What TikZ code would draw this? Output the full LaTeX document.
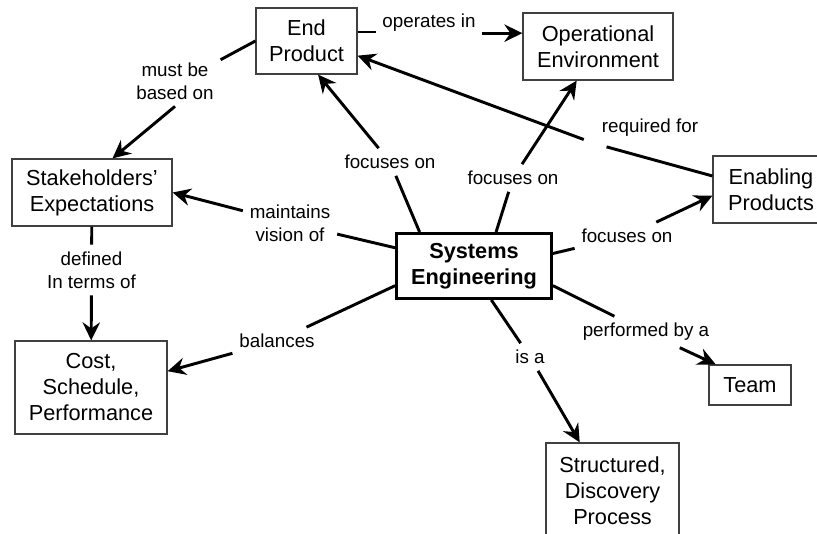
\documentclass[tikz,border=0pt]{standalone}
\usepackage{fontspec}
\setmainfont{Liberation Sans}
\usetikzlibrary{arrows.meta}

\tikzset{
  concept/.style={draw=black!75, line width=0.9pt, align=center, inner sep=0pt,
    font=\fontsize{16.3}{19.5}\selectfont},
  core/.style={concept, draw=black, line width=2.25pt,
    font=\fontsize{16.3}{19.5}\selectfont\bfseries},
  phrase/.style={align=center, inner sep=5pt, font=\fontsize{14.1}{17.3}\selectfont},
  link/.style={line width=2.2pt},
  linkarrow/.style={link, -{Stealth[length=13.5pt, width=13pt, inset=4.5pt]}}
}

\begin{document}
\begin{tikzpicture}[x=0.75pt, y=-0.75pt]
\useasboundingbox (0,0) rectangle (817,534);

\node[core, minimum width=116pt, minimum height=48.75pt] (se) at (474,266) {Systems\\Engineering};
\node[concept, minimum width=75.75pt, minimum height=49.5pt] (ep) at (306.5,41) {End\\Product};
\node[concept, minimum width=112.5pt, minimum height=50.25pt] (op) at (598,46.5) {Operational\\Environment};
\node[concept, minimum width=120pt, minimum height=50.25pt] (sh) at (92,192.5) {Stakeholders'\\Expectations};
\node[concept, minimum width=87pt, minimum height=50.25pt] (en) at (771,189.5) {Enabling\\Products};
\node[concept, minimum width=114pt, minimum height=69.75pt] (cs) at (91,387.5) {Cost,\\Schedule,\\Performance};
\node[concept, minimum width=61.5pt, minimum height=30pt] (tm) at (750,385) {Team};
\node[concept, minimum width=99.75pt, minimum height=72pt] (sp) at (612.5,491) {Structured,\\Discovery\\Process};

\node[phrase] (opin) at (429,23) {operates in};
\node[phrase] (mbo) at (175,81) {must be\\based on};
\node[phrase] (fo1) at (390,162) {focuses on};
\node[phrase] (fo2) at (513,178) {focuses on};
\node[phrase] (mv) at (290,223) {maintains\\vision of};
\node[phrase] (rf) at (650,128) {required for};
\node[phrase] (fo3) at (627,236) {focuses on};
\node[phrase] (dt) at (91.5,270) {defined\\In terms of};
\node[phrase] (bal) at (277,341) {balances};
\node[phrase] (isa) at (530,357) {is a};
\node[phrase] (pb) at (646,332) {performed by a};

\draw[link] (ep.10) -- (ep.10 -| opin.west);
\draw[linkarrow] (opin.east |- op.170) -- (op.170);
\draw[link] (ep.west) -- (mbo.25);
\draw[linkarrow] (mbo.south) -- (sh.59);
\draw[link] (se.148) -- (fo1);
\draw[linkarrow] (fo1) -- (ep.-71);
\draw[link] (se.57) -- (fo2);
\draw[linkarrow] (fo2) -- (op.-122);
\draw[link] (se.167) -- (mv);
\draw[linkarrow] (mv) -- (sh.east);
\draw[link, shorten >=9pt] (en.167) -- (rf.south west);
\draw[linkarrow, shorten <=9pt] (rf.south west) -- (ep.-16);
\draw[link] (se.9) -- (fo3);
\draw[linkarrow] (fo3) -- (en.-174);
\draw[link] (sh) -- (dt);
\draw[linkarrow] (dt) -- (cs);
\draw[link] (se.-166) -- (bal);
\draw[linkarrow] (bal) -- (cs.12);
\draw[link] (se.-63) -- (isa);
\draw[linkarrow] (isa) -- (sp.124);
\draw[link] (se.-14) -- (pb);
\draw[linkarrow] (pb) -- (tm.149);
\end{tikzpicture}
\end{document}
